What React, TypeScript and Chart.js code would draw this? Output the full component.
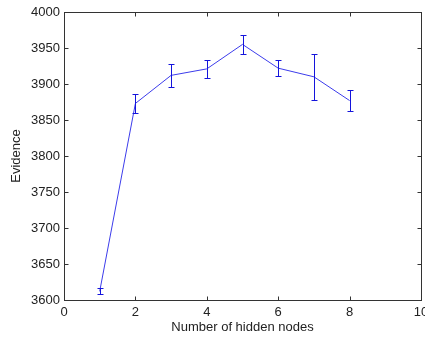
import { useEffect, useRef } from "react";
import { Chart, registerables } from "chart.js";

Chart.register(...registerables);

const nodes = [1, 2, 3, 4, 5, 6, 7, 8];
const evidence = [3612, 3873, 3912, 3921, 3955, 3922, 3910, 3877];
const errors = [4, 13, 16, 12, 13, 11, 32, 15];
const xTicks = [0, 2, 4, 6, 8, 10];
const yTicks = [3600, 3650, 3700, 3750, 3800, 3850, 3900, 3950, 4000];

const FONT = "'Liberation Sans', Arial, Helvetica, sans-serif";

const matlabPlugin = {
  id: "matlabDecor",
  afterDatasetsDraw(chart: any) {
    const { ctx, chartArea, scales } = chart;
    const x = scales.x;
    const y = scales.y;
    ctx.save();
    // error bars
    ctx.strokeStyle = "#1414dc";
    ctx.lineWidth = 1;
    nodes.forEach((n, i) => {
      const px = Math.round(x.getPixelForValue(n)) + 0.5;
      const top = Math.round(y.getPixelForValue(evidence[i] + errors[i])) + 0.5;
      const bot = Math.round(y.getPixelForValue(evidence[i] - errors[i])) + 0.5;
      ctx.beginPath();
      ctx.moveTo(px, top);
      ctx.lineTo(px, bot);
      ctx.moveTo(px - 3, top);
      ctx.lineTo(px + 3, top);
      ctx.moveTo(px - 3, bot);
      ctx.lineTo(px + 3, bot);
      ctx.stroke();
    });
    // frame
    const l = Math.round(chartArea.left) + 0.5;
    const r = Math.round(chartArea.right) + 0.5;
    const t = Math.round(chartArea.top) + 0.5;
    const b = Math.round(chartArea.bottom) + 0.5;
    ctx.strokeStyle = "#333333";
    ctx.strokeRect(l, t, r - l, b - t);
    // inward ticks
    ctx.beginPath();
    x.ticks.forEach((tk: any) => {
      const px = Math.round(x.getPixelForValue(tk.value)) + 0.5;
      ctx.moveTo(px, b);
      ctx.lineTo(px, b - 4);
      ctx.moveTo(px, t);
      ctx.lineTo(px, t + 4);
    });
    y.ticks.forEach((tk: any) => {
      const py = Math.round(y.getPixelForValue(tk.value)) + 0.5;
      ctx.moveTo(l, py);
      ctx.lineTo(l + 4, py);
      ctx.moveTo(r, py);
      ctx.lineTo(r - 4, py);
    });
    ctx.stroke();
    ctx.restore();
  },
};

export default function App() {
  const ref = useRef<HTMLCanvasElement | null>(null);
  useEffect(() => {
    if (!ref.current) return;
    const chart = new Chart(ref.current, {
      type: "line",
      data: {
        datasets: [
          {
            data: nodes.map((n, i) => ({ x: n, y: evidence[i] })),
            borderColor: "rgb(60,60,235)",
            borderWidth: 1,
            pointRadius: 0,
            fill: false,
            tension: 0,
          },
        ],
      },
      options: {
        animation: false,
        responsive: false,
        maintainAspectRatio: false,
        layout: { padding: { top: 12, right: 4, left: 0, bottom: 0 } },
        plugins: { legend: { display: false }, tooltip: { enabled: false } },
        scales: {
          x: {
            type: "linear",
            min: 0,
            max: 10,
            afterBuildTicks: (s: any) => {
              s.ticks = xTicks.map((v) => ({ value: v }));
            },
            afterFit: (s: any) => {
              s.height = 38;
              s.paddingLeft = 0;
              s.paddingRight = 0;
            },
            grid: { display: false, drawTicks: false },
            border: { display: false },
            ticks: {
              color: "#222",
              font: { family: FONT, size: 13 },
              padding: 5,
              maxRotation: 0,
              autoSkip: false,
              callback: (v: any) => String(v),
            },
            title: {
              display: true,
              text: "Number of hidden nodes",
              color: "#222",
              font: { family: FONT, size: 13 },
              padding: { top: 0, bottom: 3 },
            },
          },
          y: {
            type: "linear",
            min: 3600,
            max: 4000,
            afterBuildTicks: (s: any) => {
              s.ticks = yTicks.map((v) => ({ value: v }));
            },
            afterFit: (s: any) => {
              s.width = 64;
              s.paddingTop = 0;
              s.paddingBottom = 0;
            },
            grid: { display: false, drawTicks: false },
            border: { display: false },
            ticks: {
              color: "#222",
              font: { family: FONT, size: 13 },
              padding: 4,
              autoSkip: false,
              callback: (v: any) => String(v),
            },
            title: {
              display: true,
              text: "Evidence",
              color: "#222",
              font: { family: FONT, size: 13 },
              padding: { top: 9, bottom: 0 },
            },
          },
        },
      },
      plugins: [matlabPlugin],
    });
    return () => chart.destroy();
  }, []);
  return (
    <div style={{ position: "fixed", left: 0, top: 0, width: 425, height: 338, background: "#fff" }}>
      <canvas ref={ref} width={425} height={338} style={{ width: 425, height: 338, display: "block" }} />
    </div>
  );
}
